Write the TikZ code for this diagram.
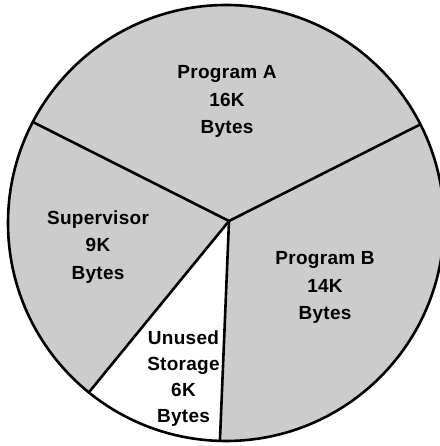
\documentclass[tikz,border=0pt]{standalone}
\usepackage{fontspec}
\setmainfont{Liberation Sans}[LetterSpace=1.5]
\begin{document}
\begin{tikzpicture}[x=1pt,y=1pt,
  piefill/.style={fill=black!20},
  divider/.style={line width=2.6pt, line cap=round},
  rim/.style={line width=2.6pt},
  lbl/.style={font=\bfseries\fontsize{19}{27.5}\selectfont, align=center, inner sep=0pt, anchor=north},
  lblsmall/.style={font=\bfseries\fontsize{19}{26}\selectfont, align=center, inner sep=0pt, anchor=north}]
\useasboundingbox (0,0) rectangle (439,446);
\coordinate (C) at (226,223);
\coordinate (V) at (229,225);
\path (C) ++(152.4:218) coordinate (L);
\path (C) ++(26.9:218) coordinate (R);
\path (C) ++(231:218) coordinate (LL);
\path (C) ++(268.4:218) coordinate (B);
\fill[piefill] (C) circle (218);
\fill[white] (V) -- (LL) arc[start angle=231, end angle=268.4, radius=218] -- cycle;
\draw[divider] (V) -- (L);
\draw[divider] (V) -- (R);
\draw[divider] (V) -- (LL);
\draw[divider] (V) -- (B);
\draw[rim] (C) circle (218);
\node[lbl] (pa) at (227,380.5) {Program A\\16K\\Bytes};
\node[lbl] (sv) at (98,235.5) {Supervisor\\9K\\Bytes};
\node[lbl] (pb) at (325,194.5) {Program B\\14K\\Bytes};
\node[lblsmall] (un) at (183.5,115.5) {Unused\\Storage\\6K\\Bytes};
\end{tikzpicture}
\end{document}
